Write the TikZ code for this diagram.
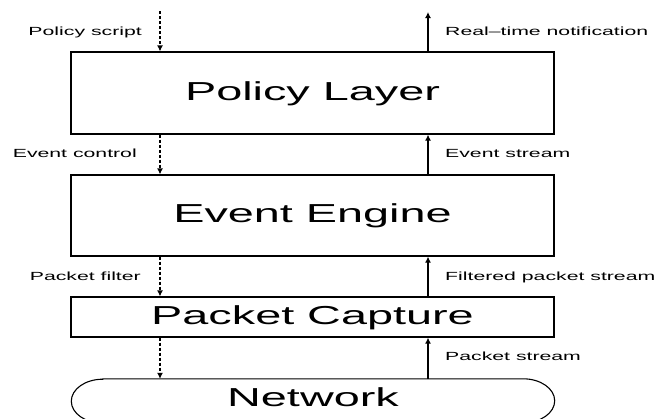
\documentclass[tikz,border=0pt]{standalone}
\usepackage{fontspec}
\setmainfont{Liberation Sans}[FakeStretch=1.8]
\usetikzlibrary{arrows.meta}
\tikzset{
  layerbox/.style={draw=black, line width=1.2pt, minimum width=483pt, inner sep=0pt,
    font=\fontsize{26}{30}\selectfont, text height=14pt, text depth=0pt},
  lbl/.style={font=\fontsize{11.8}{14}\selectfont, inner sep=0pt},
  ctrl/.style={line width=1.2pt, dash pattern=on 3pt off 2pt, -{Latex[length=6pt,width=6pt]}},
  flow/.style={line width=1.2pt, -{Latex[length=6pt,width=6pt]}},
}
\begin{document}
\begin{tikzpicture}[x=1pt,y=-1pt]
\useasboundingbox (0,0) rectangle (669,418);
\clip (0,0) rectangle (669,418);
% boxes
\node[layerbox, minimum height=82pt] (policy) at (312.5,93) {Policy Layer};
\node[layerbox, minimum height=81pt] (event) at (312.5,215.5) {Event Engine};
\node[layerbox, minimum height=40pt] (capture) at (312.5,317) {Packet Capture};
\node[inner sep=0pt, minimum width=420pt, minimum height=44pt,
      font=\fontsize{26}{30}\selectfont, text height=10pt, text depth=0pt] (network) at (313,401) {Network};
\draw[line width=1.1pt] (network.north west) -- (network.north east)
  arc[x radius=31.5pt, y radius=22pt, start angle=90, end angle=-90]
  -- (network.south west)
  arc[x radius=31.5pt, y radius=22pt, start angle=-90, end angle=-270] -- cycle;
% connector columns
\coordinate (dx) at (160,0);
\coordinate (sx) at (428,0);
\coordinate (ps) at (160,11);
\coordinate (rt) at (428,12);
% control (dashed, downward)
\draw[ctrl] (ps) -- (ps |- policy.north);
\draw[ctrl] (policy.south -| dx) -- (event.north -| dx);
\draw[ctrl] (event.south -| dx) -- (capture.north -| dx);
\draw[ctrl] (capture.south -| dx) -- (network.north -| dx);
% data flow (solid, upward)
\draw[flow] (network.north -| sx) -- (capture.south -| sx);
\draw[flow] (capture.north -| sx) -- (event.south -| sx);
\draw[flow] (event.north -| sx) -- (policy.south -| sx);
\draw[flow] (policy.north -| sx) -- (rt);
% labels
\node[lbl, anchor=base east] (lps) at (142,35) {Policy script};
\node[lbl, anchor=base east] (lec) at (137,157) {Event control};
\node[lbl, anchor=base east] (lpf) at (141,280) {Packet filter};
\node[lbl, anchor=base west] (lrt) at (445,35) {Real–time notification};
\node[lbl, anchor=base west] (les) at (445,157) {Event stream};
\node[lbl, anchor=base west] (lfs) at (445,280) {Filtered packet stream};
\node[lbl, anchor=base west] (lpk) at (445,360) {Packet stream};
\end{tikzpicture}
\end{document}
